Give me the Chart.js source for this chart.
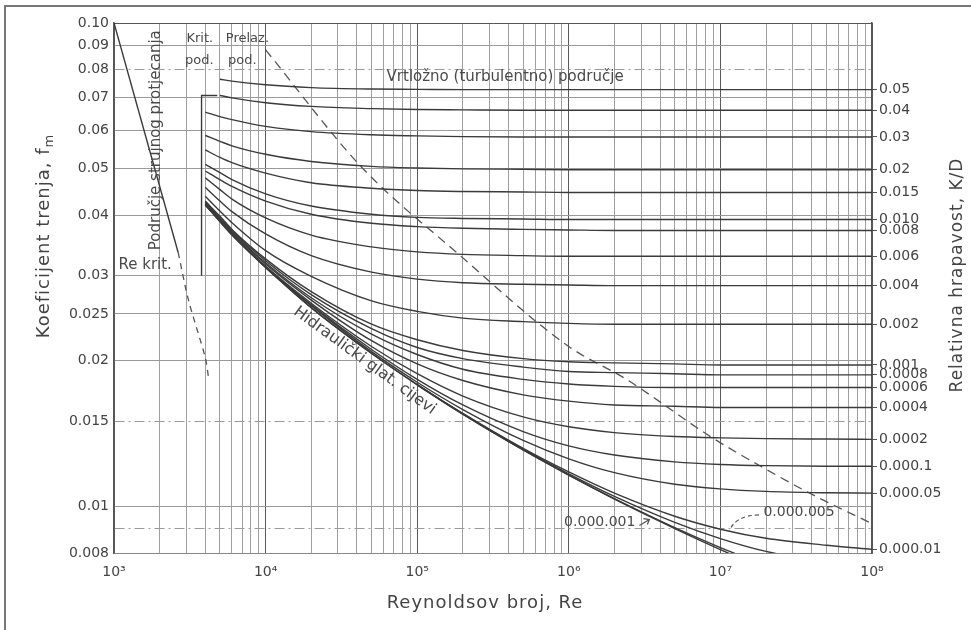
<!DOCTYPE html>
<html>
<head>
<meta charset="utf-8">
<title>Moodyjev dijagram</title>
<script src="https://cdn.jsdelivr.net/npm/chart.js@4.4.1/dist/chart.umd.min.js"></script>
<style>
  html, body { margin: 0; padding: 0; background: #fff; }
  #wrap { position: relative; width: 971px; height: 630px; overflow: hidden; }
  #frame { position: absolute; left: 4px; top: 5px; width: 990px; height: 650px; border-top: 2px solid #777; border-left: 2px solid #777; }
  #chart { position: absolute; left: 0; top: 0; }
</style>
</head>
<body>
<div id="wrap">
  <div id="frame"></div>
  <canvas id="chart" width="971" height="630"></canvas>
</div>
<script>
const reynolds = [4000, 5000, 6000, 1e4, 2e4, 5e4, 1e5, 2e5, 5e5, 1e6, 2e6, 5e6, 1e7, 2e7, 5e7, 1e8];

// friction factor f_m for each relative roughness K/D
const f_05     = [null, 0.0765, 0.0758, 0.0745, 0.0735, 0.0730, 0.0729, 0.0728, 0.0728, 0.0728, 0.0728, 0.0728, 0.0728, 0.0728, 0.0728, 0.0728];
const f_04     = [null, 0.0708, 0.0700, 0.0684, 0.0672, 0.0665, 0.0662, 0.0661, 0.0660, 0.0660, 0.0660, 0.0660, 0.0660, 0.0660, 0.0660, 0.0660];
const f_03     = [0.0654, 0.0640, 0.0631, 0.0611, 0.0596, 0.0587, 0.0584, 0.0582, 0.0581, 0.0581, 0.0581, 0.0581, 0.0581, 0.0581, 0.0581, 0.0581];
const f_02     = [0.0585, 0.0569, 0.0557, 0.0535, 0.0517, 0.0505, 0.0501, 0.0499, 0.0498, 0.0497, 0.0497, 0.0497, 0.0497, 0.0497, 0.0497, 0.0497];
const f_015    = [0.0546, 0.0527, 0.0514, 0.0489, 0.0467, 0.0455, 0.0450, 0.0448, 0.0447, 0.0446, 0.0446, 0.0446, 0.0446, 0.0446, 0.0446, 0.0446];
const f_010    = [0.0510, 0.0490, 0.0474, 0.0443, 0.0418, 0.0402, 0.0396, 0.0394, 0.0393, 0.0392, 0.0392, 0.0392, 0.0392, 0.0392, 0.0392, 0.0392];
const f_008    = [0.0494, 0.0474, 0.0459, 0.0428, 0.0402, 0.0385, 0.0379, 0.0376, 0.0374, 0.0373, 0.0372, 0.0372, 0.0372, 0.0372, 0.0372, 0.0372];
const f_006    = [0.0478, 0.0452, 0.0432, 0.0395, 0.0364, 0.0344, 0.0336, 0.0332, 0.0330, 0.0329, 0.0329, 0.0329, 0.0329, 0.0329, 0.0329, 0.0329];
const f_004    = [0.0457, 0.0428, 0.0407, 0.0366, 0.0330, 0.0305, 0.0295, 0.0290, 0.0288, 0.0287, 0.0286, 0.0286, 0.0286, 0.0286, 0.0286, 0.0286];
const f_002    = [0.0438, 0.0408, 0.0386, 0.0338, 0.0299, 0.0266, 0.0253, 0.0245, 0.0241, 0.0239, 0.0238, 0.0238, 0.0238, 0.0238, 0.0238, 0.0238];
const f_001    = [0.0428, 0.0398, 0.0374, 0.0325, 0.0278, 0.0238, 0.0221, 0.0210, 0.0202, 0.0199, 0.0198, 0.0197, 0.0196, 0.0196, 0.0196, 0.0196];
const f_0008   = [0.0426, 0.0396, 0.0372, 0.0322, 0.0274, 0.0233, 0.0213, 0.0202, 0.0194, 0.0190, 0.0189, 0.0188, 0.0187, 0.0187, 0.0187, 0.0187];
const f_0006   = [0.0425, 0.0393, 0.0370, 0.0319, 0.0270, 0.0227, 0.0206, 0.0192, 0.0183, 0.0179, 0.0177, 0.0176, 0.0176, 0.0176, 0.0176, 0.0176];
const f_0004   = [0.0423, 0.0392, 0.0368, 0.0317, 0.0267, 0.0220, 0.0197, 0.0182, 0.0170, 0.0165, 0.0162, 0.0161, 0.0160, 0.0160, 0.0160, 0.0160];
const f_0002   = [0.0421, 0.0390, 0.0366, 0.0314, 0.0263, 0.0214, 0.0188, 0.0169, 0.0153, 0.0146, 0.0142, 0.01394, 0.01385, 0.0138, 0.01377, 0.01375];
const f_0001   = [0.0421, 0.0389, 0.0365, 0.0313, 0.0261, 0.0211, 0.0183, 0.0162, 0.01427, 0.01333, 0.01276, 0.01235, 0.0122, 0.01213, 0.0121, 0.0121];
const f_00005  = [0.0420, 0.0389, 0.0365, 0.0312, 0.0260, 0.02088, 0.01805, 0.01585, 0.01368, 0.01253, 0.01173, 0.0111, 0.01086, 0.01073, 0.01066, 0.01064];
const f_00001  = [null, null, null, 0.0312, 0.02576, 0.02073, 0.01786, 0.01556, 0.01317, 0.01177, 0.01064, 0.00953, 0.00896, 0.00858, 0.0083, 0.00814];
const f_000005 = [null, null, null, null, null, null, 0.01784, 0.01553, 0.01312, 0.01167, 0.01048, 0.00926, 0.00857, 0.00806, 0.00765, null];
const f_000001 = [null, null, null, null, null, null, 0.01783, 0.0155, 0.01307, 0.0116, 0.01037, 0.00903, 0.00821, 0.00753, null, null];
const f_smooth = [0.0420, 0.0388, 0.0364, 0.0312, 0.02575, 0.0207, 0.01783, 0.0155, 0.01307, 0.01159, 0.01034, 0.00899, 0.00813, 0.00739, null, null];

const roughness = ['0.05', '0.04', '0.03', '0.02', '0.015', '0.010', '0.008', '0.006', '0.004', '0.002',
                   '0.001', '0.0008', '0.0006', '0.0004', '0.0002', '0.000.1', '0.000.05', '0.000.01'];
const roughCurves = [f_05, f_04, f_03, f_02, f_015, f_010, f_008, f_006, f_004, f_002,
                     f_001, f_0008, f_0006, f_0004, f_0002, f_0001, f_00005, f_00001];

// laminar line, its dashed continuation, the critical line and the rough-zone boundary
const laminarRe = [1000, 2650];
const laminarF = [0.1, 0.0335];
const laminarDashRe = [2650, 3100, 4000, 4200];
const laminarDashF = [0.0335, 0.0267, 0.0203, 0.0185];
const critRe = [4800, 3780, 3780];
const critF = [0.0708, 0.0708, 0.030];
const boundaryRe = [1e4, 4.3e4, 1.84e5, 1e6, 2.4e6, 8.7e6, 1.93e7, 3.97e7, 1e8];
const boundaryF = [0.088, 0.0503, 0.0334, 0.0214, 0.0183, 0.0139, 0.0120, 0.0106, 0.0092];

// axes
const xDecades = [1e3, 1e4, 1e5, 1e6, 1e7, 1e8];
const xDecadeLabels = ['10³', '10⁴', '10⁵', '10⁶', '10⁷', '10⁸'];
const minorSteps = [2, 3, 4, 5, 6, 7, 8, 9];
const yTicks = [0.008, 0.009, 0.01, 0.015, 0.02, 0.025, 0.03, 0.04, 0.05, 0.06, 0.07, 0.08, 0.09, 0.1];
const yTickLabels = ['0.008', '', '0.01', '0.015', '0.02', '0.025', '0.03', '0.04', '0.05', '0.06', '0.07', '0.08', '0.09', '0.10'];
const yDashed = [0.009, 0.015, 0.08];

const xTicks = [];
xDecades.forEach((d, i) => {
  xTicks.push(d);
  if (i < xDecades.length - 1) minorSteps.forEach(s => xTicks.push(s * d));
});

const FONT = "'DejaVu Sans', 'Liberation Sans', sans-serif";
const INK = '#3a3a3a';

const pts = (xs, ys) => xs.map((x, i) => ({x: x, y: ys[i]})).filter(p => p.y !== null);
const curve = (ys) => ({
  data: pts(reynolds, ys),
  borderColor: INK,
  borderWidth: 1.4,
  pointRadius: 0,
  fill: false,
  cubicInterpolationMode: 'monotone'
});

const datasets = roughCurves.map(curve);
datasets.push(curve(f_000005), curve(f_000001), curve(f_smooth));
datasets.push({data: pts(laminarRe, laminarF), borderColor: INK, borderWidth: 1.4, pointRadius: 0});
datasets.push({data: pts(laminarDashRe, laminarDashF), borderColor: '#555', borderWidth: 1.3, pointRadius: 0, borderDash: [6, 5], tension: 0.3});
datasets.push({data: pts(critRe, critF), borderColor: INK, borderWidth: 1.4, pointRadius: 0});
datasets.push({data: pts(boundaryRe, boundaryF), borderColor: '#555', borderWidth: 1.3, pointRadius: 0, borderDash: [9, 6], cubicInterpolationMode: 'monotone'});

function say(ctx, str, x, y, size, align, rot, spacing) {
  ctx.save();
  ctx.translate(x, y);
  if (rot) ctx.rotate(rot);
  ctx.font = size + 'px ' + FONT;
  ctx.letterSpacing = (spacing || 0) + 'px';
  ctx.textAlign = align || 'center';
  ctx.textBaseline = 'middle';
  ctx.fillText(str, 0, 0);
  ctx.restore();
}

const notes = {
  id: 'notes',
  afterDatasetsDraw(chart) {
    const {ctx, scales: {x, y}} = chart;
    const px = v => x.getPixelForValue(v);
    const py = v => y.getPixelForValue(v);
    ctx.save();
    ctx.fillStyle = '#4a4a4a';
    ctx.strokeStyle = '#555';

    say(ctx, 'Područje strujnog protjecanja', px(1900), py(0.0572), 15, 'center', -Math.PI / 2);
    say(ctx, 'Re krit.', px(1070), py(0.0315), 15, 'left');
    say(ctx, 'Krit.', px(3680), py(0.093), 13);
    say(ctx, 'pod.', px(3650), py(0.0837), 13);
    say(ctx, 'Prelaz.', px(7590), py(0.093), 13);
    say(ctx, 'pod.', px(7020), py(0.0837), 13);
    say(ctx, 'Vrtložno (turbulentno) područje', px(3.8e5), py(0.0772), 15);

    const ang = Math.atan2(py(f_smooth[6]) - py(f_smooth[4]), px(reynolds[6]) - px(reynolds[4]));
    say(ctx, 'Hidraulički glat. cijevi', px(4.5e4), py(0.0200), 16, 'center', ang);

    // 0.000.001 with its arrow
    ctx.font = '14px ' + FONT;
    const tx = px(1.6e6), ty = py(0.00925);
    say(ctx, '0.000.001', tx, ty, 14);
    const tw = ctx.measureText('0.000.001').width;
    ctx.lineWidth = 1.2;
    ctx.beginPath();
    ctx.moveTo(tx + tw / 2 + 4, ty + 3);
    ctx.lineTo(tx + tw / 2 + 14, ty - 3);
    ctx.moveTo(tx + tw / 2 + 8, ty - 4);
    ctx.lineTo(tx + tw / 2 + 14, ty - 3);
    ctx.lineTo(tx + tw / 2 + 12, ty + 2);
    ctx.stroke();

    // 0.000.005 with dashed leader
    const lx = px(3.3e7), ly = py(0.00969);
    say(ctx, '0.000.005', lx, ly, 14);
    ctx.setLineDash([4, 3]);
    ctx.beginPath();
    ctx.moveTo(lx - 40, ly + 2);
    ctx.quadraticCurveTo(px(1.25e7), py(0.00955), px(1.15e7), py(0.0089));
    ctx.stroke();
    ctx.setLineDash([]);

    // axis titles
    ctx.fillStyle = '#444';
    ctx.save();
    ctx.translate(44, 236);
    ctx.rotate(-Math.PI / 2);
    ctx.font = '18px ' + FONT;
    ctx.letterSpacing = '1px';
    const main = 'Koeficijent trenja, f';
    const w1 = ctx.measureText(main).width;
    ctx.font = '13px ' + FONT;
    const w2 = ctx.measureText('m').width;
    ctx.textAlign = 'left';
    ctx.textBaseline = 'middle';
    ctx.font = '18px ' + FONT;
    ctx.fillText(main, -(w1 + w2) / 2, 0);
    ctx.font = '13px ' + FONT;
    ctx.fillText('m', -(w1 + w2) / 2 + w1, 6);
    ctx.restore();

    say(ctx, 'Reynoldsov broj, Re', 485, 603, 18, 'center', 0, 1);
    say(ctx, 'Relativna hrapavost, K/D', 958, 275, 17, 'center', -Math.PI / 2, 1);
    ctx.restore();
  }
};

new Chart(document.getElementById('chart'), {
  type: 'line',
  data: {datasets: datasets},
  plugins: [notes],
  options: {
    responsive: false,
    animation: false,
    devicePixelRatio: 1,
    layout: {padding: {top: 23}},
    plugins: {legend: {display: false}, tooltip: {enabled: false}},
    scales: {
      x: {
        type: 'logarithmic',
        min: 1000,
        max: 1e8,
        afterBuildTicks: s => { s.ticks = xTicks.map(v => ({value: v})); },
        afterFit: s => { s.height = 77; },
        ticks: {
          autoSkip: false, maxRotation: 0, padding: 11, color: '#444',
          font: {family: FONT, size: 14},
          callback: v => { const i = xDecades.indexOf(v); return i >= 0 ? xDecadeLabels[i] : ''; }
        },
        grid: {drawTicks: false, lineWidth: 1,
               color: c => c.tick && xDecades.includes(c.tick.value) ? '#5a5a5a' : '#a0a0a0'},
        border: {color: '#888'}
      },
      y: {
        type: 'logarithmic',
        position: 'left',
        min: 0.008,
        max: 0.1,
        afterBuildTicks: s => { s.ticks = yTicks.map(v => ({value: v})); },
        afterFit: s => { s.width = 114; },
        ticks: {
          autoSkip: false, padding: 5, color: '#444',
          font: {family: FONT, size: 14},
          callback: (v, i) => yTickLabels[i]
        },
        grid: {drawTicks: false, lineWidth: 1,
               color: c => c.tick && c.tick.value === 0.1 ? '#555' : '#9a9a9a'},
        border: {color: '#555', width: 1.5,
                 dash: c => c.tick && yDashed.includes(c.tick.value) ? [10, 4, 2, 4] : []}
      },
      y2: {
        type: 'logarithmic',
        position: 'right',
        min: 0.008,
        max: 0.1,
        afterBuildTicks: s => { s.ticks = roughCurves.map(c => ({value: c[c.length - 1]})); },
        afterFit: s => { s.width = 99; },
        ticks: {
          autoSkip: false, padding: 2, color: '#444',
          font: {family: FONT, size: 14},
          callback: (v, i) => roughness[i]
        },
        grid: {drawOnChartArea: false, drawTicks: true, tickLength: 5, color: '#555'},
        border: {color: '#555', width: 1.5}
      }
    }
  }
});
</script>
</body>
</html>
